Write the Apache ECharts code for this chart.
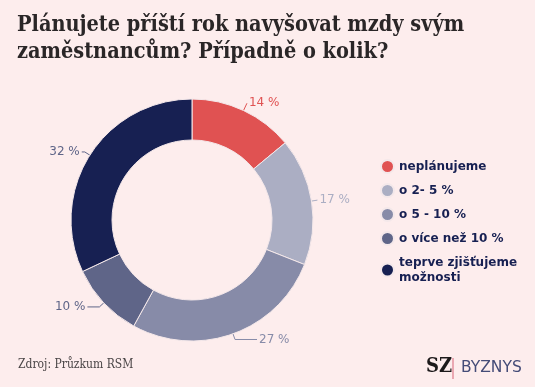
<!DOCTYPE html>
<html><head><meta charset="utf-8">
<script src="https://cdn.jsdelivr.net/npm/echarts@6/dist/echarts.min.js"></script>
<style>html,body{margin:0;padding:0;background:#fdeded;}#c{width:535px;height:387px;}</style>
</head><body><div id="c"></div>
<script>
var categories = ['neplánujeme', 'o 2- 5 %', 'o 5 - 10 %', 'o více než 10 %', 'teprve zjišťujeme\nmožnosti'];
var values = [14, 17, 27, 10, 32];
var colors = ['#e05252', '#abaec3', '#878ba8', '#5f6588', '#172052'];
var labelColors = ['#e05252', '#abaec3', '#878ba8', '#5f6588', '#5f6588'];
var lineLen1 = [8, 6, 6, 6, 6];
var lineLen2 = [0, 0, 22, 12, 3];

var chart = echarts.init(document.getElementById('c'));
chart.setOption({
  backgroundColor: '#fdeded',
  animation: false,
  title: {
    text: 'Plánujete příští rok navyšovat mzdy svým\nzaměstnancům? Případně o kolik?',
    left: 12, top: 7,
    textStyle: {fontFamily: 'DejaVu Serif Condensed', fontWeight: 'bold', fontSize: 21.5, lineHeight: 27, color: '#2a2627'}
  },
  legend: {
    orient: 'vertical', left: 375, top: 154, itemGap: 9,
    icon: 'circle', itemWidth: 13, itemHeight: 13,
    textStyle: {fontFamily: 'DejaVu Sans', fontWeight: 'bold', fontSize: 12, color: '#172052', lineHeight: 15}
  },
  series: [{
    type: 'pie',
    center: [192, 220],
    radius: [80, 121],
    startAngle: 90,
    data: categories.map(function(c, i){
      return {name: c, value: values[i], itemStyle: {color: colors[i]},
        label: {color: labelColors[i]},
        labelLine: {length: lineLen1[i], length2: lineLen2[i], lineStyle: {color: labelColors[i]}}};
    }),
    itemStyle: {borderColor: '#f4e8ea', borderWidth: 1},
    label: {formatter: '{c} %', fontFamily: 'DejaVu Sans', fontSize: 12, distanceToLabelLine: 2},
    labelLine: {length: 6, length2: 4, lineStyle: {width: 1}}
  }],
  graphic: [
    {type: 'text', left: 18, top: 359, style: {text: 'Zdroj: Průzkum RSM', font: '12px "DejaVu Serif Condensed"', fill: '#4a4546'}},
    {type: 'text', left: 426, top: 357, style: {text: 'SZ', font: 'bold 20px "DejaVu Serif Condensed"', fill: '#1d1a1b'}},
    {type: 'rect', shape: {x: 452, y: 358, width: 2, height: 21}, style: {fill: '#eaa8b2'}},
    {type: 'text', left: 461, top: 360, style: {text: 'BYZNYS', font: '15.5px "DejaVu Sans"', fill: '#454c78'}}
  ]
});
</script></body></html>
